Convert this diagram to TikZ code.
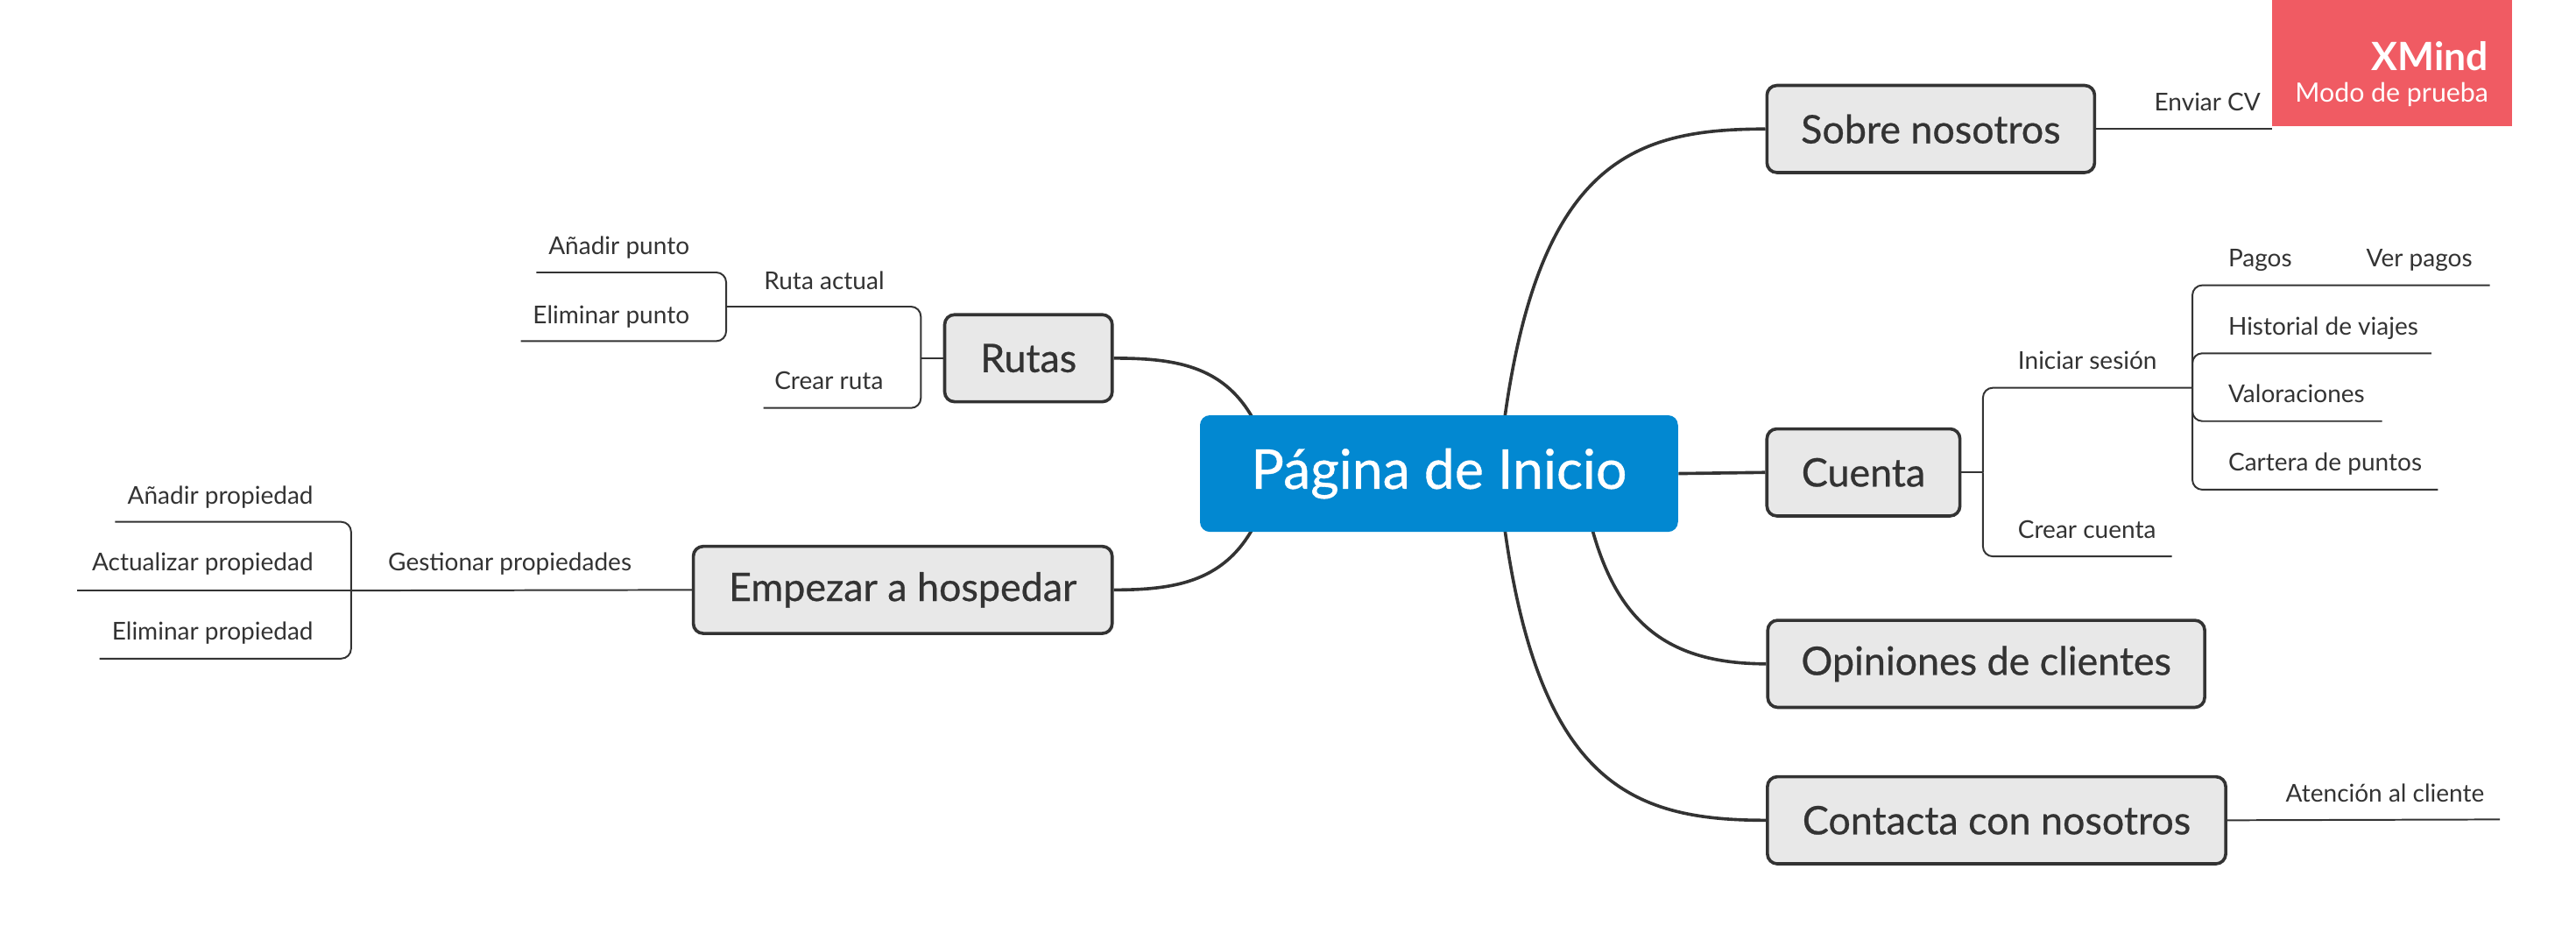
\documentclass[tikz,border=0pt]{standalone}
\usepackage{fontspec}
\setmainfont{Lato}
\newfontfamily\medfont{Lato}[FakeBold=0.6]
\usetikzlibrary{backgrounds}
\definecolor{ink}{HTML}{333333}
\definecolor{topicfill}{HTML}{E8E8E8}
\definecolor{cblue}{HTML}{0288D1}
\definecolor{wmark}{RGB}{240,91,99}
\begin{document}
\begin{tikzpicture}[x=0.02cm,y=-0.02cm,
  topic/.style={draw=ink, line width=1.1pt, fill=topicfill, rounded corners=0.12cm,
    minimum height=1.06cm, inner sep=0pt, font=\medfont\fontsize{13.6}{15}\selectfont, text=ink},
  central/.style={fill=cblue, rounded corners=0.12cm, minimum width=5.82cm,
    minimum height=1.42cm, inner sep=0pt, font=\medfont\fontsize{19}{22}\selectfont, text=white},
  sub/.style={inner sep=0pt, font=\fontsize{8.5}{10}\selectfont, text=ink},
  branch/.style={draw=ink, line width=1.1pt},
  subline/.style={draw=ink, line width=0.6pt, rounded corners=0.12cm}]
\useasboundingbox (0,0) rectangle (1568,572);

% central and main topics
\node[central] (c) at (875.9,288.2) {Página de Inicio};
\node[topic, minimum width=3.99cm] (sobre) at (1175.25,78.5) {Sobre nosotros};
\node[topic, minimum width=2.35cm] (cuenta) at (1134.25,287.5) {Cuenta};
\node[topic, minimum width=5.32cm] (opin) at (1209,404) {Opiniones de clientes};
\node[topic, minimum width=5.58cm] (contacta) at (1215.3,499.2) {Contacta con nosotros};
\node[topic, minimum width=2.04cm] (rutas) at (626,218) {Rutas};
\node[topic, minimum width=5.10cm] (empezar) at (549.5,359) {Empezar a hospedar};

% hidden start points inside the central topic
\coordinate (cr1) at (912,288);
\coordinate (cr2) at (962,288);
\coordinate (cl1) at (775,288);

\begin{scope}[on background layer]
\draw[branch] (cr1) .. controls (930,100) and (990,78.5) .. (sobre.west);
\draw[branch] (cr1) .. controls (930,476) and (990,499.2) .. (contacta.west);
\draw[branch] (cr2) .. controls (975,370) and (1005,404) .. (opin.west);
\draw[branch] (c.east) -- (cuenta.west);
\draw[branch] (cl1) .. controls (760,225) and (725,218) .. (rutas.east);
\draw[branch] (cl1) .. controls (760,351) and (725,359) .. (empezar.east);
\end{scope}

% watermark
\fill[wmark] (1383,0) rectangle (1529,77);
\node[anchor=base east, inner sep=0pt, text=white, font=\fontsize{13.5}{15}\selectfont\bfseries] (xm) at (1515,43) {XMind};
\node[anchor=base east, inner sep=0pt, text=white, font=\fontsize{9.2}{10}\selectfont] (mp) at (1515,62) {Modo de prueba};

% Sobre nosotros
\coordinate (e1) at (1383,78.5);
\draw[subline] (sobre.east) -- (e1);
\node[sub, anchor=base west] (cv) at (1311,67.2) {Enviar CV};

% Cuenta
\coordinate (j1) at (1207,287.5);
\coordinate (j2) at (1334.5,236);
\coordinate (ecc) at (1322,338.6);
\draw[subline] (cuenta.east) -- (j1);
\draw[subline] (j1) -- (1207,236) -- (j2);
\draw[subline] (j1) -- (1207,338.6) -- (ecc);
\node[sub, anchor=base west] (ini) at (1228,224.8) {Iniciar sesión};
\node[sub, anchor=base west] (crc) at (1228,327.5) {Crear cuenta};
\coordinate (epag) at (1515.5,173.6);
\coordinate (ehis) at (1480,215);
\coordinate (eval) at (1450,256.3);
\coordinate (ecar) at (1484,298);
\draw[subline] (j2) -- (1334.5,173.6) -- (epag);
\draw[subline] (j2) -- (1334.5,215) -- (ehis);
\draw[subline] (j2) -- (1334.5,256.3) -- (eval);
\draw[subline] (j2) -- (1334.5,298) -- (ecar);
\node[sub, anchor=base west] (pag) at (1356,162.6) {Pagos};
\node[sub, anchor=base west] (ver) at (1440,162.6) {Ver pagos};
\node[sub, anchor=base west] (his) at (1356,204) {Historial de viajes};
\node[sub, anchor=base west] (val) at (1356,245) {Valoraciones};
\node[sub, anchor=base west] (car) at (1356,286.7) {Cartera de puntos};

% Contacta
\coordinate (eat) at (1521.7,498.7);
\draw[subline] (contacta.east) -- (eat);
\node[sub, anchor=base west] (at) at (1391,487.9) {Atención al cliente};

% Rutas
\coordinate (j3) at (560.5,218);
\coordinate (j4) at (442,186.6);
\coordinate (ecr) at (464.7,248.3);
\draw[subline] (rutas.west) -- (j3);
\draw[subline] (j3) -- (560.5,186.6) -- (j4);
\draw[subline] (j3) -- (560.5,248.3) -- (ecr);
\node[sub, anchor=base east] (ra) at (538.6,176) {Ruta actual};
\node[sub, anchor=base east] (cr) at (538,237) {Crear ruta};
\coordinate (ean) at (326.5,165.8);
\coordinate (eel) at (317,207.6);
\draw[subline] (j4) -- (442,165.8) -- (ean);
\draw[subline] (j4) -- (442,207.6) -- (eel);
\node[sub, anchor=base east] (an) at (420,155) {Añadir punto};
\node[sub, anchor=base east] (el) at (420,196.8) {Eliminar punto};

% Empezar a hospedar
\coordinate (j5) at (213.7,359.4);
\draw[subline] (empezar.west) -- (j5);
\node[sub, anchor=base east] (gp) at (384.8,347.5) {Gestionar propiedades};
\coordinate (eap) at (70,317.6);
\coordinate (eup) at (47,359.4);
\coordinate (eep) at (60.6,400.8);
\draw[subline] (j5) -- (213.7,317.6) -- (eap);
\draw[subline] (j5) -- (eup);
\draw[subline] (j5) -- (213.7,400.8) -- (eep);
\node[sub, anchor=base east] (ap) at (191,306.6) {Añadir propiedad};
\node[sub, anchor=base east] (up) at (191,347.5) {Actualizar propiedad};
\node[sub, anchor=base east] (ep) at (191,389.2) {Eliminar propiedad};
\end{tikzpicture}
\end{document}
